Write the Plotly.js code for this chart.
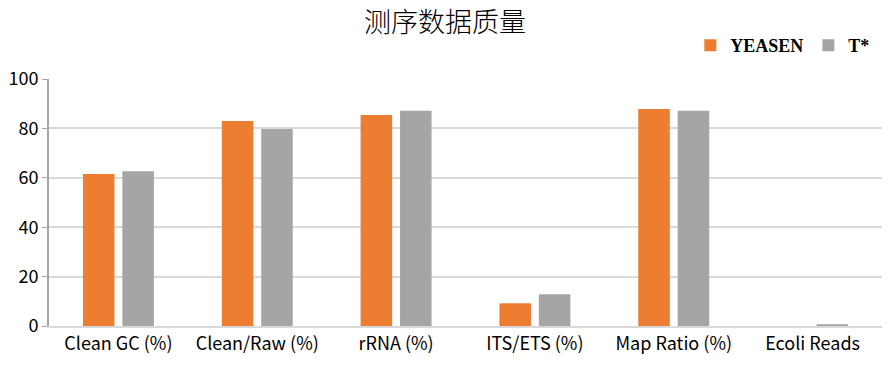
<!DOCTYPE html>
<html><head><meta charset="utf-8">
<script src="https://cdn.plot.ly/plotly-3.0.1.min.js"></script>
<style>html,body{margin:0;padding:0;background:#fff}#chart{width:890px;height:374px}</style>
</head><body><div id="chart"></div>
<script>
const categories = ["Clean GC (%)", "Clean/Raw (%)", "rRNA (%)", "ITS/ETS (%)", "Map Ratio (%)", "Ecoli Reads"];
const yeasen = [61.5, 83.0, 85.4, 9.2, 87.9, 0];
const tstar = [62.7, 79.8, 87.1, 12.9, 87.1, 0.7];
const yTicks = [0, 20, 40, 60, 80, 100];

const traces = [
  {type: "bar", name: "YEASEN", x: categories, y: yeasen, marker: {color: "#ed7d31"}},
  {type: "bar", name: "T*", x: categories, y: tstar, marker: {color: "#a5a5a5"}}
];
const layout = {
  width: 890, height: 374,
  margin: {l: 49, r: 8, t: 79, b: 48},
  paper_bgcolor: "#fff", plot_bgcolor: "#fff",
  title: {text: "测序数据质量", x: 0.5, xanchor: "center", y: 0.94, yanchor: "middle",
    font: {family: "Noto Sans CJK SC", size: 27, color: "#000", weight: 300}},
  barmode: "group", bargap: 0.432, bargroupgap: 0.2,
  showlegend: true,
  legend: {orientation: "h", x: 0.992, xanchor: "right", y: 1.135, yanchor: "middle",
    font: {family: "Liberation Serif", size: 18, color: "#000", weight: "bold"},
    itemwidth: 30, tracegroupgap: 0, bgcolor: "rgba(0,0,0,0)"},
  xaxis: {type: "category", showgrid: false, showline: true, linecolor: "#d9d9d9", linewidth: 2,
    ticks: "", tickfont: {family: "Noto Sans CJK SC", size: 18, color: "#000"}, fixedrange: true},
  yaxis: {range: [0, 100], tickvals: yTicks, ticktext: yTicks.map(String),
    showgrid: true, gridcolor: "#d9d9d9", gridwidth: 2, zeroline: false,
    showline: true, linecolor: "#a6a6a6", linewidth: 2, ticks: "outside", ticklen: 5, tickcolor: "#a6a6a6",
    tickfont: {family: "Noto Sans CJK SC", size: 18, color: "#000"}, fixedrange: true}
};
Plotly.newPlot("chart", traces, layout, {displayModeBar: false, staticPlot: true});
</script></body></html>
